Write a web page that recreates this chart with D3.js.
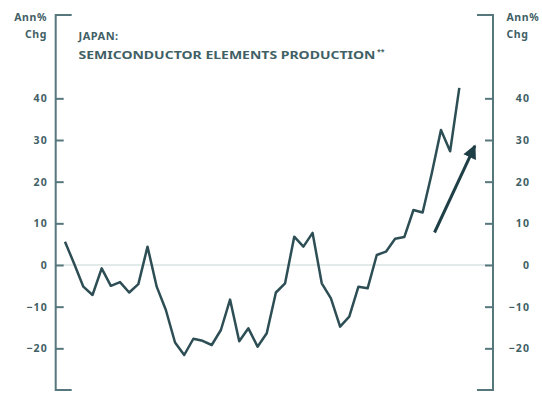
<!DOCTYPE html>
<html>
<head>
<meta charset="utf-8">
<script src="https://cdn.jsdelivr.net/npm/d3@7"></script>
<style>
  html, body { margin: 0; padding: 0; background: #ffffff; }
  svg { display: block; }
  text { font-family: "Noto Sans", "DejaVu Sans", sans-serif; font-weight: 700; fill: #3f6065; }
</style>
</head>
<body>
<svg id="chart" width="542" height="394"></svg>
<script>
// Japan semiconductor elements production, annual % change (quarterly readings)
const growth = [
  5.6, 0.3, -5.2, -7.2, -0.8, -5.0, -4.1, -6.6, -4.6, 4.4,
  -5.2, -10.8, -18.6, -21.6, -17.7, -18.2, -19.2, -15.6, -8.3, -18.3,
  -15.2, -19.6, -16.4, -6.6, -4.4, 6.8, 4.4, 7.7, -4.4, -8.0,
  -14.8, -12.4, -5.2, -5.6, 2.4, 3.2, 6.3, 6.7, 13.2, 12.6,
  22.0, 32.4, 27.3, 42.5
];
const periods = d3.range(growth.length);
const yTicks = [-20, -10, 0, 10, 20, 30, 40];
const yDomain = [-30, 60];
const titleLines = ["JAPAN:", "SEMICONDUCTOR ELEMENTS PRODUCTION"];
const titleNote = "**";
const unitLines = ["Ann%", "Chg"];
// trend arrow, in (period, % change) units
const arrowFrom = [40.3, 7.8];
const arrowTo = [44.7, 28.6];

const svg = d3.select("#chart");
const axisColor = "#56777c";
const lineColor = "#2d4e54";
const labelSpacing = 1.2;

const leftX = 55.7, rightX = 493;
const x = d3.scaleLinear().domain([0, periods.length - 1]).range([65, 459.3]);
const y = d3.scaleLinear().domain(yDomain).range([390, 15]);

// zero line
svg.append("line")
  .attr("x1", leftX).attr("x2", rightX)
  .attr("y1", y(0)).attr("y2", y(0))
  .attr("stroke", "#e2eaea").attr("stroke-width", 2);

// axes with inward ticks and end caps
function drawAxis(xPos, side) {
  const axis = (side === "left" ? d3.axisLeft(y) : d3.axisRight(y))
    .tickValues(yTicks).tickSize(0).tickPadding(0).tickFormat(d3.format("d"));
  const g = svg.append("g").attr("transform", `translate(${xPos},0)`).call(axis);
  g.select(".domain").remove();
  g.selectAll(".tick text")
    .attr("x", (side === "left" ? -9 : 36) + labelSpacing)
    .attr("text-anchor", "end")
    .attr("font-size", 10.5)
    .attr("fill", "#3f6065")
    .style("letter-spacing", labelSpacing + "px")
    .style("font-family", "\"Noto Sans\", sans-serif")
    .style("font-weight", 700);
  const dir = side === "left" ? 1 : -1;
  g.selectAll(".tick").append("line")
    .attr("x1", 0).attr("x2", dir * 8)
    .attr("stroke", axisColor).attr("stroke-width", 2);
  const [y0, y1] = y.range();
  g.append("path")
    .attr("d", `M${dir * 16},${y1}H0V${y0}H${dir * 16}`)
    .attr("fill", "none").attr("stroke", axisColor).attr("stroke-width", 2);
}
drawAxis(leftX, "left");
drawAxis(rightX, "right");

// unit labels
const unitsLeft = svg.append("text").attr("text-anchor", "end").attr("font-size", 10.5)
  .style("letter-spacing", "0.6px");
unitLines.forEach((t, i) => unitsLeft.append("tspan").attr("x", 47).attr("y", 20.5 + i * 17).text(t));
const unitsRight = svg.append("text").attr("text-anchor", "start").attr("font-size", 10.5)
  .style("letter-spacing", "0.6px");
unitLines.forEach((t, i) => unitsRight.append("tspan").attr("x", 506.5).attr("y", 20.5 + i * 17).text(t));

// title
svg.append("text")
  .attr("x", 78.5).attr("y", 39.5)
  .attr("font-size", 11)
  .style("letter-spacing", "0.5px")
  .text(titleLines[0]);
svg.append("text")
  .attr("x", 78.5).attr("y", 58.5)
  .attr("font-size", 11)
  .attr("textLength", 297).attr("lengthAdjust", "spacingAndGlyphs")
  .text(titleLines[1]);
svg.append("text")
  .attr("x", 377).attr("y", 54)
  .attr("font-size", 7)
  .text(titleNote);

// series line
svg.append("path")
  .datum(growth)
  .attr("d", d3.line().x((d, i) => x(periods[i])).y(d => y(d)))
  .attr("fill", "none")
  .attr("stroke", lineColor)
  .attr("stroke-width", 2.5)
  .attr("stroke-linejoin", "round");

// trend arrow
svg.append("defs").append("marker")
  .attr("id", "arrowhead")
  .attr("viewBox", "0 0 10 10")
  .attr("refX", 9).attr("refY", 5)
  .attr("markerWidth", 4.8).attr("markerHeight", 4.6)
  .attr("markerUnits", "strokeWidth")
  .attr("orient", "auto")
  .append("path").attr("d", "M0,0L10,5L0,10Z").attr("fill", "#1e3f46");

svg.append("line")
  .attr("x1", x(arrowFrom[0])).attr("y1", y(arrowFrom[1]))
  .attr("x2", x(arrowTo[0])).attr("y2", y(arrowTo[1]))
  .attr("stroke", "#1e3f46").attr("stroke-width", 3)
  .attr("marker-end", "url(#arrowhead)");
</script>
</body>
</html>
